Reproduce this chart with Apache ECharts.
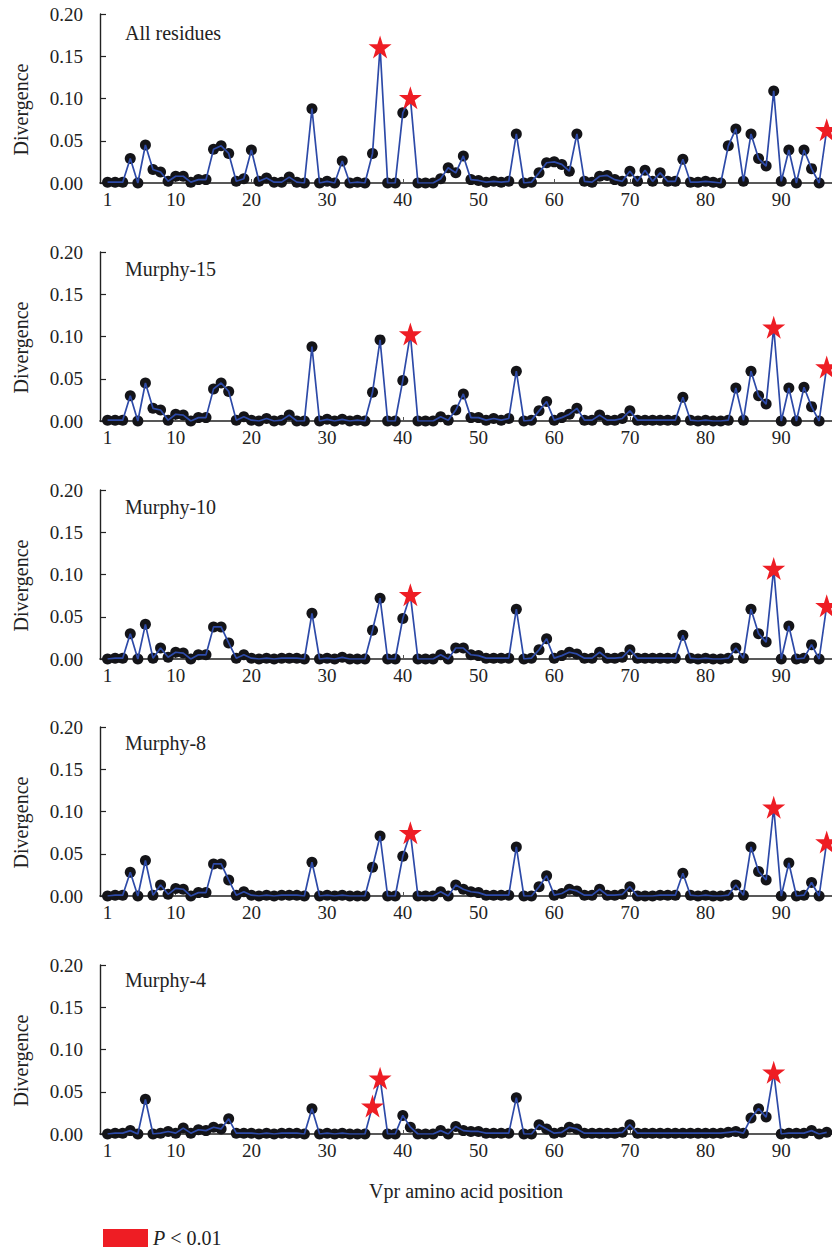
<!DOCTYPE html>
<html>
<head>
<meta charset="utf-8">
<script src="https://cdn.jsdelivr.net/npm/echarts@6/dist/echarts.min.js"></script>
<style>html,body{margin:0;padding:0;background:#fff}#c{width:832px;height:1254px}</style>
</head>
<body>
<div id="c"></div>
<script>
// ---------- DATA ----------
const panelLabels = ['All residues', 'Murphy-15', 'Murphy-10', 'Murphy-8', 'Murphy-4'];
const xTickValues = [1, 10, 20, 30, 40, 50, 60, 70, 80, 90];
const yTickValues = [0, 0.05, 0.10, 0.15, 0.20];

const allResidues = [
  0.001,0.001,0.001,0.029,0,0.045,0.016,0.013,0.002,0.008,
  0.008,0.001,0.004,0.004,0.040,0.044,0.035,0.002,0.005,0.039,
  0.002,0.006,0.001,0.001,0.007,0.001,0,0.088,0,0.002,
  0,0.026,0,0.001,0,0.035,0.161,0,0,0.083,
  0.101,0,0,0,0.005,0.018,0.012,0.032,0.004,0.003,
  0.001,0.002,0.001,0.002,0.058,0,0.001,0.012,0.024,0.025,
  0.022,0.014,0.058,0.002,0.001,0.008,0.009,0.004,0.002,0.014,
  0.002,0.015,0.002,0.012,0.002,0.002,0.028,0.001,0.001,0.002,
  0.001,0,0.044,0.064,0.002,0.058,0.029,0.020,0.109,0.002,
  0.039,0,0.039,0.017,0,0.063
];
const murphy15 = [
  0.001,0.001,0.001,0.030,0,0.045,0.015,0.013,0.001,0.008,
  0.007,0,0.004,0.004,0.038,0.045,0.035,0.001,0.005,0.001,
  0,0.003,0,0.001,0.007,0,0,0.088,0,0.002,
  0,0.002,0,0.001,0,0.034,0.096,0,0,0.048,
  0.103,0,0,0,0.005,0.001,0.013,0.032,0.004,0.004,
  0.001,0.003,0.001,0.003,0.059,0,0.001,0.012,0.023,0.001,
  0.004,0.008,0.015,0.001,0.001,0.007,0.001,0.001,0.003,0.012,
  0.001,0.001,0.001,0.001,0.001,0.001,0.028,0.001,0,0.001,
  0,0,0.001,0.039,0.001,0.059,0.030,0.020,0.111,0,
  0.039,0,0.040,0.017,0,0.064
];
const murphy10 = [
  0,0.001,0.001,0.030,0,0.041,0.001,0.013,0.002,0.008,
  0.007,0,0.005,0.005,0.038,0.038,0.019,0.001,0.005,0.001,
  0,0.001,0,0.001,0.001,0.001,0,0.054,0,0.001,
  0,0.002,0,0,0,0.034,0.072,0,0,0.048,
  0.076,0,0,0,0.005,0,0.013,0.013,0.005,0.004,
  0.001,0.001,0.001,0.001,0.059,0,0.001,0.011,0.024,0.001,
  0.004,0.008,0.006,0.001,0.001,0.008,0.001,0.001,0.002,0.011,
  0.001,0.001,0.001,0.001,0.001,0.001,0.028,0.001,0,0.001,
  0,0,0.001,0.013,0.001,0.059,0.030,0.020,0.107,0,
  0.039,0,0.001,0.017,0,0.063
];
const murphy8 = [
  0,0.001,0.001,0.028,0,0.042,0.001,0.013,0.002,0.009,
  0.008,0,0.004,0.004,0.038,0.038,0.019,0.001,0.005,0.001,
  0,0.001,0,0.001,0.001,0.001,0,0.040,0,0.001,
  0,0.001,0,0,0,0.034,0.071,0,0,0.047,
  0.075,0,0,0,0.005,0,0.013,0.008,0.005,0.004,
  0.001,0.001,0.001,0.001,0.058,0,0,0.011,0.024,0.001,
  0.003,0.008,0.006,0.001,0.001,0.008,0.001,0.001,0.002,0.011,
  0,0,0,0.001,0.001,0.001,0.027,0.001,0,0.001,
  0,0,0.001,0.013,0.001,0.058,0.029,0.019,0.105,0,
  0.039,0,0.001,0.016,0,0.064
];
const murphy4 = [
  0,0.001,0.001,0.004,0,0.041,0,0.001,0.003,0.001,
  0.007,0.001,0.005,0.004,0.008,0.006,0.018,0.001,0.001,0.001,
  0,0.001,0,0.001,0.001,0.001,0,0.030,0,0.001,
  0,0.001,0,0,0,0.033,0.066,0,0,0.022,
  0.008,0,0,0,0.004,0,0.009,0.004,0.003,0.003,
  0.001,0.001,0.001,0.001,0.043,0,0,0.011,0.006,0.001,
  0.002,0.008,0.006,0.001,0.001,0.001,0.001,0.001,0.002,0.011,
  0.001,0.001,0.001,0.001,0.001,0.001,0.001,0.001,0.001,0.001,
  0.001,0.001,0.002,0.003,0.001,0.019,0.030,0.020,0.073,0,
  0.001,0.001,0.001,0.004,0,0.002
];
const panelValues = [allResidues, murphy15, murphy10, murphy8, murphy4];
// positions flagged with P < 0.01 (drawn as stars)
const starPositions = [[37, 41, 96], [41, 89, 96], [41, 89, 96], [41, 89, 96], [36, 37, 89]];

// ---------- STYLE / LAYOUT ----------
const FONT = 'Liberation Serif';
const gridTops = [14, 252, 490, 727, 965];
const labelY = [34, 270, 508, 744, 981];
const GRID_H = 169, GRID_L = 100, GRID_W = 732;
const LINE_C = '#2D4AA8', DOT_C = '#141418', STAR_C = '#EE1D24', AXIS_C = '#222';
const STAR = 'path://M50,0 L61.23,34.55 L97.55,34.55 L68.16,55.9 L79.39,90.45 L50,69.1 L20.61,90.45 L31.84,55.9 L2.45,34.55 L38.77,34.55 Z';

const grids = [], xAxes = [], yAxes = [], series = [], graphics = [];
panelValues.forEach((vals, i) => {
  grids.push({ left: GRID_L, top: gridTops[i], width: GRID_W, height: GRID_H });
  const last = i === panelValues.length - 1;
  xAxes.push({
    gridIndex: i, type: 'value', min: 0, max: 96.7,
    axisLine: { show: true, lineStyle: { color: AXIS_C, width: 1.6 } },
    axisTick: { show: true, inside: true, length: 4, customValues: xTickValues, lineStyle: { color: '#555' } },
    axisLabel: { customValues: xTickValues, margin: 7, color: '#222', fontFamily: FONT, fontSize: 19 },
    splitLine: { show: false },
    name: last ? 'Vpr amino acid position' : '',
    nameLocation: 'middle', nameGap: 47,
    nameTextStyle: { color: '#222', fontFamily: FONT, fontSize: 20 }
  });
  yAxes.push({
    gridIndex: i, type: 'value', min: 0, max: 0.2, interval: 0.05,
    axisLine: { show: true, lineStyle: { color: AXIS_C, width: 1.4 } },
    axisTick: { show: true, inside: true, length: 6, lineStyle: { color: AXIS_C, width: 1.2 } },
    axisLabel: { margin: 17, color: '#222', fontFamily: FONT, fontSize: 19, formatter: v => v.toFixed(2) },
    splitLine: { show: false },
    name: 'Divergence', nameLocation: 'middle', nameGap: 69,
    nameTextStyle: { color: '#222', fontFamily: FONT, fontSize: 20, padding: [0, 22, 0, 0] }
  });
  const stars = starPositions[i];
  const all = vals.map((v, k) => [k + 1, v]);
  series.push({
    type: 'scatter', xAxisIndex: i, yAxisIndex: i, z: 2, silent: true,
    symbol: 'circle', symbolSize: 11,
    itemStyle: { color: DOT_C, opacity: 1 },
    data: all.filter(d => stars.indexOf(d[0]) < 0)
  });
  series.push({
    type: 'line', xAxisIndex: i, yAxisIndex: i, z: 3, silent: true,
    showSymbol: false, symbol: 'none',
    lineStyle: { color: LINE_C, width: 1.7 },
    data: all
  });
  series.push({
    name: 'P < 0.01', type: 'scatter', xAxisIndex: i, yAxisIndex: i, z: 4, silent: true,
    symbol: STAR, symbolSize: 23,
    itemStyle: { color: STAR_C, opacity: 1 },
    data: stars.map(p => [p, vals[p - 1]])
  });
  graphics.push({
    type: 'text', left: 125, top: labelY[i] - 11,
    style: { text: panelLabels[i], fontFamily: FONT, fontSize: 20, fill: '#222' }
  });
});

const chart = echarts.init(document.getElementById('c'), null, { renderer: 'svg' });
chart.setOption({
  animation: false,
  backgroundColor: '#fff',
  grid: grids, xAxis: xAxes, yAxis: yAxes, series: series,
  graphic: graphics,
  legend: {
    data: [{ name: 'P < 0.01', itemStyle: { color: STAR_C, opacity: 1 } }],
    left: 98, top: 1222, selectedMode: false,
    icon: 'rect', itemWidth: 45, itemHeight: 18, itemGap: 10,
    formatter: () => '{i|P} < 0.01',
    textStyle: { color: '#222', fontFamily: FONT, fontSize: 20, lineHeight: 22,
      rich: { i: { fontStyle: 'italic', fontFamily: FONT, fontSize: 20, lineHeight: 22, color: '#222' } } }
  }
});
</script>
</body>
</html>
